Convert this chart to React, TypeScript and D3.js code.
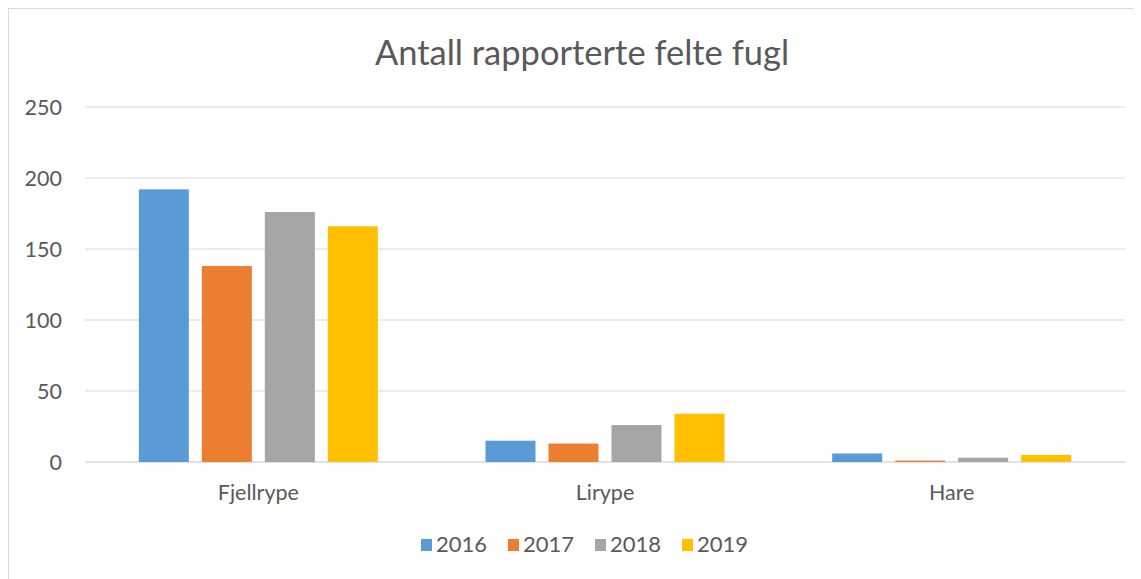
import React from "react";
import * as d3 from "d3";

const categories = ["Fjellrype", "Lirype", "Hare"];
const years = ["2016", "2017", "2018", "2019"];
const values2016 = [192, 15, 6];
const values2017 = [138, 13, 1];
const values2018 = [176, 26, 3];
const values2019 = [166, 34, 5];
const yTicks = [0, 50, 100, 150, 200, 250];
const colors = ["#5B9BD5", "#ED7D31", "#A5A5A5", "#FFC000"];

const series = [values2016, values2017, values2018, values2019];

const W = 1133;
const H = 571;
const FONT = "Lato, 'Open Sans', sans-serif";

export default function App() {
  const left = 77, right = 1117, top = 99, bottom = 454;
  const x = d3.scaleBand<string>().domain(categories).range([left, right]);
  const y = d3.scaleLinear().domain([0, 250]).range([bottom, top]);
  const bw = x.bandwidth();
  const barW = 50;
  const step = 63;
  const groupW = step * 3 + barW;
  const legendX = [413, 500, 587, 674];

  return (
    <svg width={W} height={H} style={{ display: "block", fontFamily: FONT }}>
      <rect x={0.5} y={0.5} width={W + 20} height={H + 20} fill="#fff" stroke="#D9D9D9" />
      <text x={574} y={57} textAnchor="middle" fontSize={34.5} fill="#595959">
        Antall rapporterte felte fugl
      </text>
      {yTicks.map((t) => (
        <g key={t}>
          <line x1={left} x2={right} y1={y(t)} y2={y(t)} stroke="#D9D9D9" strokeWidth={t === 0 ? 1.5 : 1} />
          <text x={54} y={y(t) + 7.5} textAnchor="end" fontSize={21.5} fill="#595959">
            {t}
          </text>
        </g>
      ))}
      {categories.map((c, ci) => {
        const gx = (x(c) as number) + (bw - groupW) / 2;
        return (
          <g key={c}>
            {series.map((s, si) => (
              <rect
                key={si}
                x={gx + si * step}
                y={y(s[ci])}
                width={barW}
                height={bottom - y(s[ci])}
                fill={colors[si]}
              />
            ))}
            <text x={(x(c) as number) + bw / 2} y={492} textAnchor="middle" fontSize={21.5} fill="#595959">
              {c}
            </text>
          </g>
        );
      })}
      {years.map((yr, i) => (
        <g key={yr}>
          <rect x={legendX[i]} y={531} width={11} height={12} fill={colors[i]} />
          <text x={legendX[i] + 15} y={544} fontSize={22} fill="#595959">
            {yr}
          </text>
        </g>
      ))}
    </svg>
  );
}
